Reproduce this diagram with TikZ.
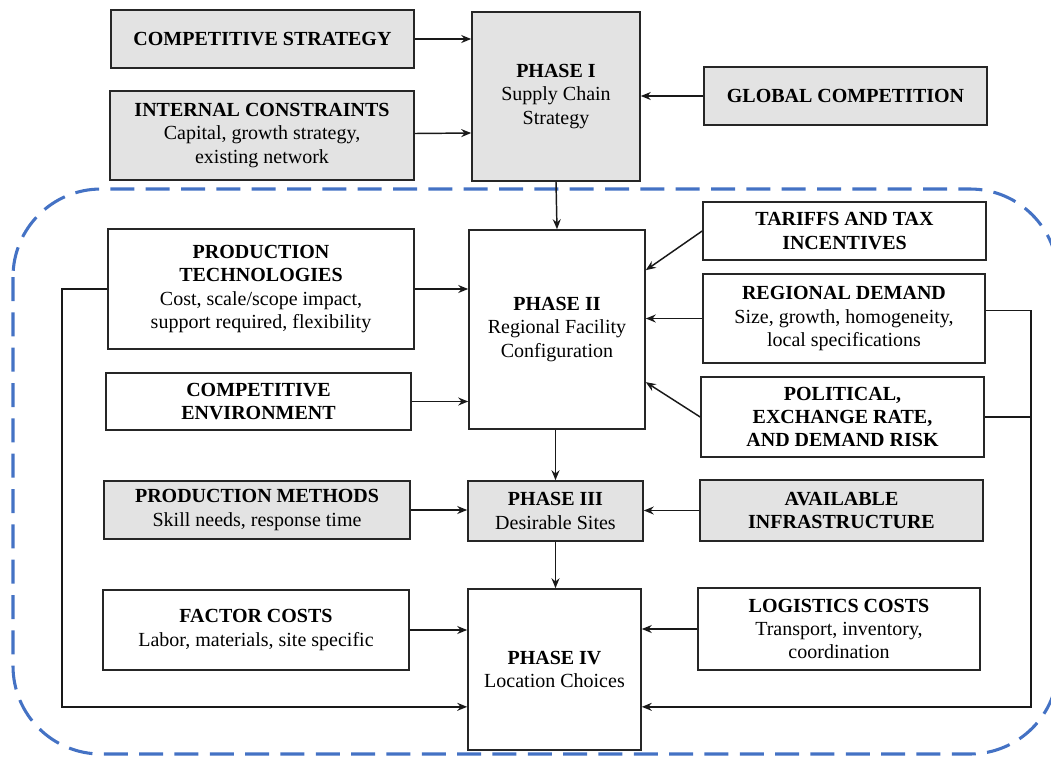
\documentclass[tikz,border=0pt]{standalone}
\usepackage{fontspec}
\setmainfont{Liberation Serif}
\usetikzlibrary{arrows.meta}
\begin{document}
\begin{tikzpicture}[x=0.75pt,y=-0.75pt,
  box/.style={draw=black!85,line width=1.2pt,fill=white,align=center,inner sep=2pt,
    font=\fontsize{15}{17.6}\selectfont},
  shaded/.style={box,fill=black!11},
  wh/.style 2 args={minimum width=#1*0.75pt,minimum height=#2*0.75pt},
  arr/.style={draw=black!90,line width=1.1pt,-{Stealth[length=7.5pt,width=6pt,inset=2.5pt]}},
  link/.style={draw=black!90,line width=1.1pt},
  region/.style={draw={rgb,255:red,68;green,114;blue,196},line width=2.3pt,
    dash pattern=on 18pt off 8.5pt,rounded corners=66pt}]
\useasboundingbox (0,0) rectangle (1051,758);

% enclosing region for phases II to IV
\draw[region] (13,189) rectangle (1058,754);

% phase I and its inputs
\node[shaded,wh={168}{169}] (p1) at (556,96.5) {\textbf{PHASE I}\\Supply Chain\\Strategy};
\node[shaded,wh={303}{58}] (cs) at (262.5,39) {\textbf{COMPETITIVE STRATEGY}};
\node[shaded,wh={304}{89}] (ic) at (262,135.5) {\textbf{INTERNAL CONSTRAINTS}\\Capital, growth strategy,\\existing network};
\node[shaded,wh={283}{58}] (gc) at (845.5,96) {\textbf{GLOBAL COMPETITION}};

% phase II and its inputs
\node[box,wh={176}{199}] (p2) at (557,329.5) {\textbf{PHASE II}\\Regional Facility\\Configuration};
\node[box,wh={306}{120}] (pt) at (261,289) {\textbf{PRODUCTION}\\\textbf{TECHNOLOGIES}\\Cost, scale/scope impact,\\support required, flexibility};
\node[box,wh={305}{57}] (ce) at (258.5,401.5) {\textbf{COMPETITIVE}\\\textbf{ENVIRONMENT}};
\node[box,wh={283}{58}] (tt) at (844.5,231) {\textbf{TARIFFS AND TAX}\\\textbf{INCENTIVES}};
\node[box,wh={282}{89}] (rd) at (844,318.5) {\textbf{REGIONAL DEMAND}\\Size, growth, homogeneity,\\local specifications};
\node[box,wh={283}{80}] (pr) at (842.5,417) {\textbf{POLITICAL,}\\\textbf{EXCHANGE RATE,}\\\textbf{AND DEMAND RISK}};

% phase III and its inputs
\node[shaded,wh={175}{60}] (p3) at (555.5,511) {\textbf{PHASE III}\\Desirable Sites};
\node[shaded,wh={306}{58}] (pm) at (257,510) {\textbf{PRODUCTION METHODS}\\Skill needs, response time};
\node[shaded,wh={283}{61}] (ai) at (841.5,510.5) {\textbf{AVAILABLE}\\\textbf{INFRASTRUCTURE}};

% phase IV and its inputs
\node[box,wh={173}{161}] (p4) at (554.5,669.5) {\textbf{PHASE IV}\\Location Choices};
\node[box,wh={306}{80}] (fc) at (256,630) {\textbf{FACTOR COSTS}\\Labor, materials, site specific};
\node[box,wh={282}{82}] (lc) at (839,629) {\textbf{LOGISTICS COSTS}\\Transport, inventory,\\coordination};

% attachment points on the phase boxes
\coordinate (p2tt) at ([yshift=44.5pt]p2.east);
\coordinate (p2pr) at ([yshift=-39.5pt]p2.east);
\coordinate (p4l) at ([yshift=-28pt]p4.west);
\coordinate (p4r) at ([yshift=-28pt]p4.east);
\coordinate (rdout) at ([yshift=6pt]rd.east);

% connectors
\draw[arr] (cs) -- (cs -| p1.west);
\draw[arr] (ic.east) ++(0,-2) -- (p1.west |- 0,133);
\draw[arr] (gc) -- (gc -| p1.east);
\draw[arr] (p1.south) -- (p2.north);
\draw[arr] (pt) -- (pt -| p2.west);
\draw[arr] (ce) -- (ce -| p2.west);
\draw[arr] (tt.west) -- (p2tt);
\draw[arr] (rd) -- (rd -| p2.east);
\draw[arr] (pr.west) -- (p2pr);
\draw[arr] (p3.north |- p2.south) -- (p3.north);
\draw[arr] (pm) -- (pm -| p3.west);
\draw[arr] (ai) -- (ai -| p3.east);
\draw[arr] (p3.south) -- (p3.south |- p4.north);
\draw[arr] (fc) -- (fc -| p4.west);
\draw[arr] (lc) -- (lc -| p4.east);

% feedback paths into phase IV
\draw[arr] (pt.west) -- ++(-45,0) |- (p4l);
\draw[arr] (rdout) -- ++(45,0) |- (p4r);
\draw[link] (pr.east) -- ++(46,0);
\end{tikzpicture}
\end{document}
